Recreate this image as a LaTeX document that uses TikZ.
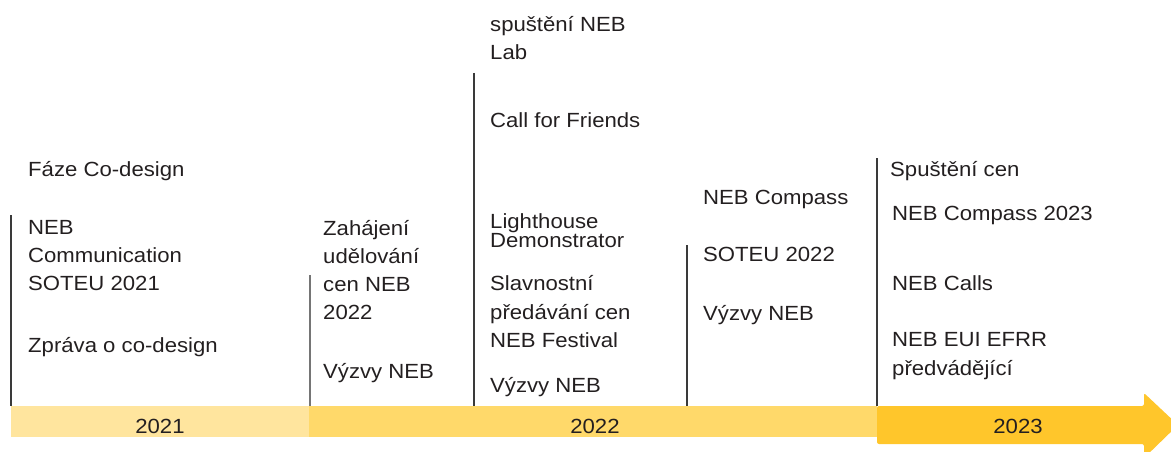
\documentclass[tikz,border=0pt]{standalone}
\usepackage{fontspec}
\setmainfont{Liberation Sans}[FakeStretch=1.08]
\begin{document}
\begin{tikzpicture}[x=1pt,y=-1pt,
  lbl/.style={anchor=base west,inner sep=0pt,text=txtc,font=\fontsize{20.5}{24}\selectfont},
  yr/.style={anchor=center,inner sep=0pt,text=txtc,font=\fontsize{20.5}{24}\selectfont},
  vline/.style={draw=linec,line width=1.1pt}]
\definecolor{txtc}{HTML}{231F20}
\definecolor{linec}{HTML}{3A3A3A}
\definecolor{ya}{HTML}{FFE59E}
\definecolor{yb}{HTML}{FFD96A}
\definecolor{yc}{HTML}{FFC62B}
\useasboundingbox (0,0) rectangle (1171,452);
% bar
\fill[ya] (11,406) rectangle (309,437);
\fill[yb] (309,406) rectangle (877,437);
\begin{scope}
\clip (0,0) rectangle (1171,452);
\fill[yc,rounded corners=2pt] (877,406) -- (1144,406) -- (1144,393) -- (1178,425) -- (1144,458) -- (1144,444) -- (877,444) -- cycle;
\end{scope}
\node[yr] (y21) at (160,426) {2021};
\node[yr] (y22) at (595,426) {2022};
\node[yr] (y23) at (1018,426) {2023};
% vertical lines
\coordinate (l1t) at (11,215); \coordinate (l1b) at (11,406);
\coordinate (l2t) at (310,275); \coordinate (l2b) at (310,406);
\coordinate (l3t) at (474,73); \coordinate (l3b) at (474,406);
\coordinate (l4t) at (687,245); \coordinate (l4b) at (687,406);
\coordinate (l5t) at (877,158); \coordinate (l5b) at (877,406);
\draw[vline] (l1t) -- (l1b);
\draw[vline,draw=linec!70] (l2t) -- (l2b);
\draw[vline] (l3t) -- (l3b);
\draw[vline] (l4t) -- (l4b);
\draw[vline] (l5t) -- (l5b);
% column 1
\node[lbl] (a1) at (28,176) {Fáze Co-design};
\node[lbl] (a2) at (28,234) {NEB};
\node[lbl] (a3) at (28,262) {Communication};
\node[lbl] (a4) at (28,290) {SOTEU 2021};
\node[lbl] (a5) at (28,352) {Zpráva o co-design};
% column 2
\node[lbl] (b1) at (323,235) {Zahájení};
\node[lbl] (b2) at (323,263) {udělování};
\node[lbl] (b3) at (323,291) {cen NEB};
\node[lbl] (b4) at (323,319) {2022};
\node[lbl] (b5) at (323,378) {Výzvy NEB};
% column 3
\node[lbl] (c1) at (490,32) {spuštění NEB};
\node[lbl] (c2) at (490,60) {Lab};
\node[lbl] (c3) at (490,128) {Call for Friends};
\node[lbl] (c4) at (490,228) {Lighthouse};
\node[lbl] (c5) at (490,247) {Demonstrator};
\node[lbl] (c6) at (490,290) {Slavnostní};
\node[lbl] (c7) at (490,319) {předávání cen};
\node[lbl] (c8) at (490,347) {NEB Festival};
\node[lbl] (c9) at (490,392) {Výzvy NEB};
% column 4
\node[lbl] (d1) at (703,204) {NEB Compass};
\node[lbl] (d2) at (703,261) {SOTEU 2022};
\node[lbl] (d3) at (703,320) {Výzvy NEB};
% column 5
\node[lbl] (e1) at (890,176) {Spuštění cen};
\node[lbl] (e2) at (892,220) {NEB Compass 2023};
\node[lbl] (e3) at (892,290) {NEB Calls};
\node[lbl] (e4) at (892,346) {NEB EUI EFRR};
\node[lbl] (e5) at (892,375) {předvádějící};
\end{tikzpicture}
\end{document}
